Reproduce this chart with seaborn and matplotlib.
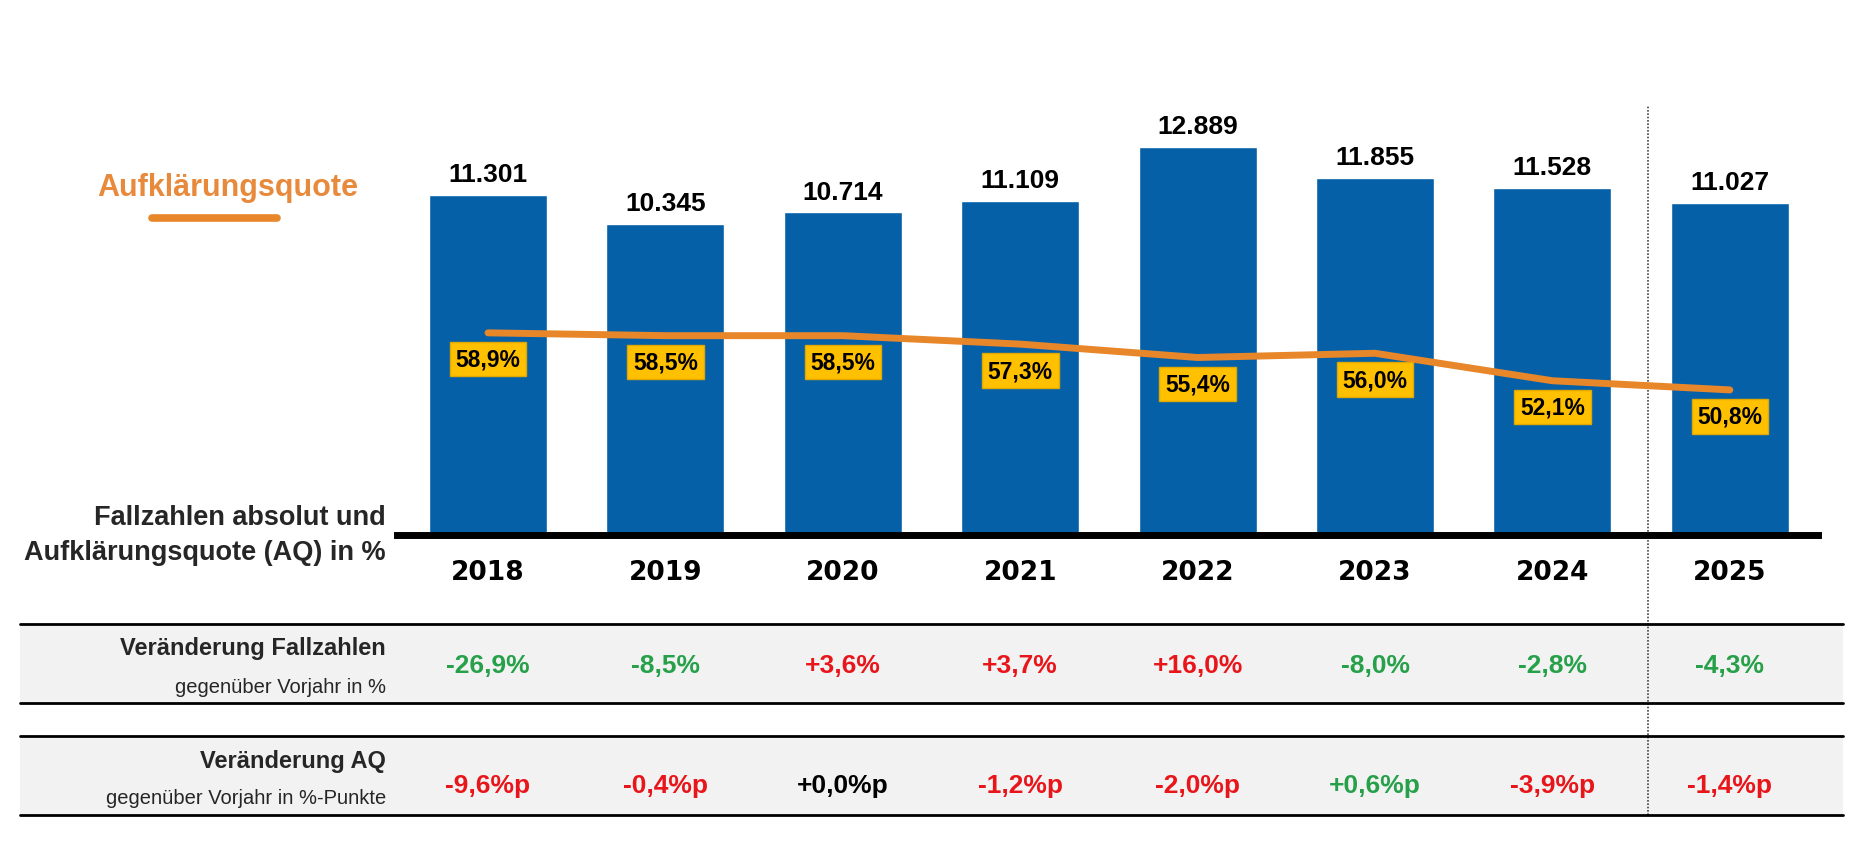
import numpy as np
import pandas as pd
import seaborn as sns
import matplotlib.pyplot as plt
from matplotlib.transforms import blended_transform_factory
from matplotlib.lines import Line2D
from matplotlib.patches import Rectangle

# Data
years = ["2018", "2019", "2020", "2021", "2022", "2023", "2024", "2025"]
cases = [11301, 10345, 10714, 11109, 12889, 11855, 11528, 11027]
aq = [58.9, 58.5, 58.5, 57.3, 55.4, 56.0, 52.1, 50.8]
change_cases = ["-26,9%", "-8,5%", "+3,6%", "+3,7%", "+16,0%", "-8,0%", "-2,8%", "-4,3%"]
change_aq = ["-9,6%p", "-0,4%p", "+0,0%p", "-1,2%p", "-2,0%p", "+0,6%p", "-3,9%p", "-1,4%p"]

blue = "#0560A8"
orange = "#E8862A"
green = "#27A04A"
red = "#E8161B"


def sign_color(txt, good_when_negative):
    if txt.startswith("+0,0"):
        return "black"
    neg = txt.startswith("-")
    return green if neg == good_when_negative else red


sns.set_theme(style="white")
plt.rcParams["font.family"] = ["Liberation Sans", "DejaVu Sans"]

W, H = 1867, 854
fig = plt.figure(figsize=(W / 100, H / 100), dpi=100)


def fx(px):
    return px / W


def fy(py):
    return 1 - py / H


ax = fig.add_axes([fx(397), fy(536), (1818 - 397) / W, 436 / H])

df = pd.DataFrame({"Jahr": years, "Faelle": cases})
sns.barplot(data=df, x="Jahr", y="Faelle", color=blue, saturation=1,
            width=0.665, ax=ax)
ax.set_xlim(-0.513, 7.497)
ax.set_ylim(0, 14484)
ax.set(xlabel="", ylabel="", xticks=[], yticks=[])
for s in ["left", "right", "top"]:
    ax.spines[s].set_visible(False)
ax.spines["bottom"].set_linewidth(5)
ax.spines["bottom"].set_color("black")

# bar values
for i, v in enumerate(cases):
    ax.annotate(f"{v:,}".replace(",", "."), (i, v), xytext=(0, 15),
                textcoords="offset points", ha="center", va="center",
                fontsize=19, fontweight="bold", color="black")

# years
tr = blended_transform_factory(ax.transData, ax.transAxes)
for i, y in enumerate(years):
    ax.text(i, -0.085, y, transform=tr, ha="center", va="center",
            fontsize=19, fontweight="bold", family="DejaVu Sans", color="black")

# AQ line on second axis
ax2 = ax.twinx()
sns.lineplot(x=np.arange(len(years)), y=aq, ax=ax2, color=orange,
             linewidth=5, legend=False)
ax2.set_ylim(30.2, 92.1)
ax2.set(xlabel="", ylabel="", yticks=[])
for s in ax2.spines.values():
    s.set_visible(False)
for i, v in enumerate(aq):
    ax2.annotate(f"{v:.1f}%".replace(".", ","), (i, v), xytext=(0, -19),
                 textcoords="offset points", ha="center", va="center",
                 fontsize=16.5, fontweight="bold", color="black",
                 bbox=dict(boxstyle="square,pad=0.25", fc="#FFC000",
                           ec="#E0A800", lw=1))

# dotted separator before 2025
ax.axvline(6.54, ymin=(536 - 816) / 436, ymax=(536 - 107) / 436,
           color="#444444", lw=1.2, linestyle=(0, (1, 1)), clip_on=False)

# legend-like title
fig.text(fx(228), fy(188), "Aufklärungsquote", ha="center", va="center",
         fontsize=22, fontweight="bold", color="#E88A3C")
fig.add_artist(Line2D([fx(152), fx(277)], [fy(219), fy(219)],
                      color=orange, lw=5.5, transform=fig.transFigure))

fig.text(fx(386), fy(518), "Fallzahlen absolut und", ha="right",
         va="center", fontsize=19.5, fontweight="bold")
fig.text(fx(386), fy(553), "Aufklärungsquote (AQ) in %", ha="right",
         va="center", fontsize=19.5, fontweight="bold")

# table rows
for top, bot in [(625, 704), (737, 816)]:
    fig.add_artist(Rectangle((fx(20), fy(bot)), fx(1843) - fx(20),
                             (bot - top) / H, facecolor="#F2F2F2",
                             edgecolor="none", transform=fig.transFigure,
                             zorder=0))
    for yy in (top, bot):
        fig.add_artist(Line2D([fx(20), fx(1843)], [fy(yy), fy(yy)],
                              color="black", lw=2, transform=fig.transFigure))

fig.text(fx(386), fy(649), "Veränderung Fallzahlen", ha="right", va="center",
         fontsize=17, fontweight="bold")
fig.text(fx(386), fy(688), "gegenüber Vorjahr in %", ha="right", va="center",
         fontsize=14.5)
fig.text(fx(386), fy(762), "Veränderung AQ", ha="right", va="center",
         fontsize=17, fontweight="bold")
fig.text(fx(386), fy(799), "gegenüber Vorjahr in %-Punkte", ha="right",
         va="center", fontsize=14.5)

trf = blended_transform_factory(ax.transData, fig.transFigure)
for i, t in enumerate(change_cases):
    ax.text(i, fy(666), t, transform=trf, ha="center", va="center",
            fontsize=19, fontweight="bold", color=sign_color(t, True),
            clip_on=False)
for i, t in enumerate(change_aq):
    ax.text(i, fy(786), t, transform=trf, ha="center", va="center",
            fontsize=19, fontweight="bold", color=sign_color(t, False),
            clip_on=False)

fig.savefig("out.png", dpi=100, facecolor="white")
